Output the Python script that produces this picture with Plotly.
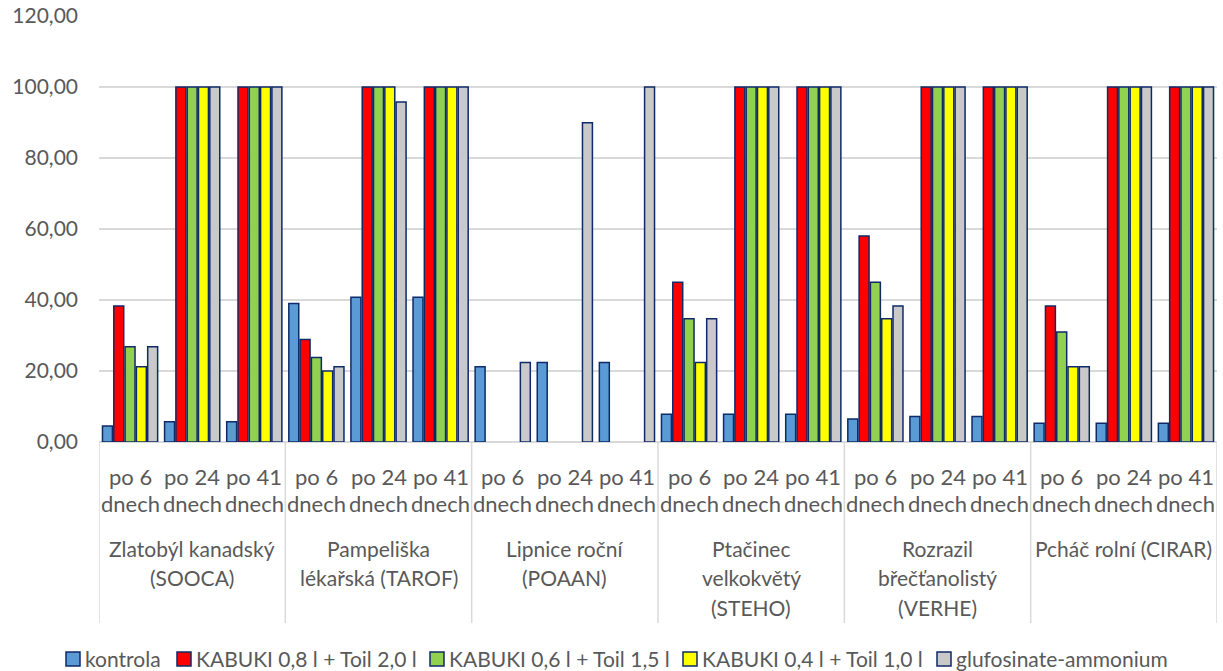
import plotly.graph_objects as go

# Species (outer category level) and assessment dates (inner level)
species = [
    ["Zlatobýl kanadský", "(SOOCA)"],
    ["Pampeliška", "lékařská (TAROF)"],
    ["Lipnice roční", "(POAAN)"],
    ["Ptačinec", "velkokvětý", "(STEHO)"],
    ["Rozrazil", "břečťanolistý", "(VERHE)"],
    ["Pcháč rolní (CIRAR)"],
]
times = [["po 6", "dnech"], ["po 24", "dnech"], ["po 41", "dnech"]]

# Efficacy values (%) for each species x date, in order
kontrola = [4.5, 5.7, 5.7, 39.0, 40.8, 40.8, 21.2, 22.4, 22.4,
            7.8, 7.8, 7.8, 6.5, 7.2, 7.2, 5.3, 5.3, 5.3]
kabuki_08 = [38.3, 100, 100, 28.9, 100, 100, 0, 0, 0,
             45.0, 100, 100, 58.0, 100, 100, 38.3, 100, 100]
kabuki_06 = [26.8, 100, 100, 23.8, 100, 100, 0, 0, 0,
             34.7, 100, 100, 45.0, 100, 100, 31.0, 100, 100]
kabuki_04 = [21.2, 100, 100, 20.0, 100, 100, 0, 0, 0,
             22.4, 100, 100, 34.7, 100, 100, 21.2, 100, 100]
glufosinate = [26.8, 100, 100, 21.2, 95.8, 100, 22.4, 89.9, 100,
               34.7, 100, 100, 38.3, 100, 100, 21.2, 100, 100]

series_names = ["kontrola", "KABUKI 0,8 l + Toil 2,0 l", "KABUKI 0,6 l + Toil 1,5 l",
                "KABUKI 0,4 l + Toil 1,0 l", "glufosinate-ammonium"]
series_values = [kontrola, kabuki_08, kabuki_06, kabuki_04, glufosinate]
series_colors = ["#5B9BD5", "#FF0000", "#92D050", "#FFFF00", "#C9C9C9"]

y_ticks = [0, 20, 40, 60, 80, 100, 120]

FONT = "Lato"
TEXT_COLOR = "#595959"
GRID_COLOR = "#D9D9D9"
OUTLINE = "#0E2A68"

W, H = 1223, 671
M_L, M_R, M_T, M_B = 99, 6, 16, 229
PLOT_BOTTOM = H - M_B
PLOT_H = H - M_T - M_B
PLOT_W = W - M_L - M_R


def paper_y(px):
    """Pixel row of the page -> paper y."""
    return (PLOT_BOTTOM - px) / PLOT_H


def paper_x(px):
    """Pixel column of the page -> paper x."""
    return (px - M_L) / PLOT_W


n_groups = len(species) * len(times)
x_pos = list(range(n_groups))

fig = go.Figure()
for name, vals, col in zip(series_names, series_values, series_colors):
    fig.add_trace(go.Bar(
        x=x_pos, y=vals, name=name, showlegend=False,
        marker=dict(color=col,
                    line=dict(color=OUTLINE,
                              width=[0 if v == 0 else 1.5 for v in vals])),
    ))

annotations = []
shapes = []
n_t = len(times)

# Inner level labels (dates)
for gi in range(n_groups):
    t = times[gi % n_t]
    for li, line in enumerate(t):
        annotations.append(dict(
            x=gi, y=paper_y(476 + li * 27), xref="x", yref="paper",
            text=line, showarrow=False, xanchor="center", yanchor="middle",
            font=dict(family=FONT, size=22, color=TEXT_COLOR),
        ))

# Outer level labels (species)
for si, sp in enumerate(species):
    cx = si * n_t + (n_t - 1) / 2
    for li, line in enumerate(sp):
        annotations.append(dict(
            x=cx, y=paper_y(548 + li * 29.5), xref="x", yref="paper",
            text=line, showarrow=False, xanchor="center", yanchor="middle",
            font=dict(family=FONT, size=21, color=TEXT_COLOR),
        ))

# Divider lines between species blocks
for si in range(len(species) + 1):
    xb = si * n_t - 0.5
    shapes.append(dict(
        type="line", xref="x", yref="paper", x0=xb, x1=xb,
        y0=0, y1=paper_y(623), line=dict(color=GRID_COLOR, width=1.5),
    ))

# Legend: square swatch followed by its label
legend_swatch_left = [66, 177, 430, 683, 937]
SW = 14
LEG_Y = 659
for name, col, sx in zip(series_names, series_colors, legend_swatch_left):
    shapes.append(dict(
        type="rect", xref="paper", yref="paper", layer="below",
        x0=paper_x(sx), x1=paper_x(sx + SW),
        y0=paper_y(LEG_Y + SW / 2), y1=paper_y(LEG_Y - SW / 2),
        fillcolor=col, line=dict(color=OUTLINE, width=1.5),
    ))
    annotations.append(dict(
        x=paper_x(sx + SW + 3), y=paper_y(LEG_Y - 1), xref="paper", yref="paper",
        text=name, showarrow=False, xanchor="left", yanchor="middle",
        font=dict(family=FONT, size=21, color=TEXT_COLOR),
    ))

fig.update_layout(
    width=W, height=H,
    margin=dict(l=M_L, r=M_R, t=M_T, b=M_B, autoexpand=False),
    paper_bgcolor="white", plot_bgcolor="white",
    barmode="group", bargap=0.09, bargroupgap=0.12,
    separators=", ",
    showlegend=False,
    font=dict(family=FONT, color=TEXT_COLOR, size=21),
    xaxis=dict(
        range=[-0.5, n_groups - 0.5], showticklabels=False, showgrid=False,
        zeroline=False, showline=False, ticks="",
    ),
    yaxis=dict(
        range=[0, 120], tickvals=y_ticks, tickformat=".2f",
        showgrid=True, gridcolor=GRID_COLOR, gridwidth=1.5,
        zeroline=True, zerolinecolor=GRID_COLOR, zerolinewidth=1.5,
        showline=False, ticks="", ticklabelstandoff=20,
        tickfont=dict(family=FONT, size=21, color=TEXT_COLOR),
    ),
    annotations=annotations,
    shapes=shapes,
)

fig.write_html("out.html")
